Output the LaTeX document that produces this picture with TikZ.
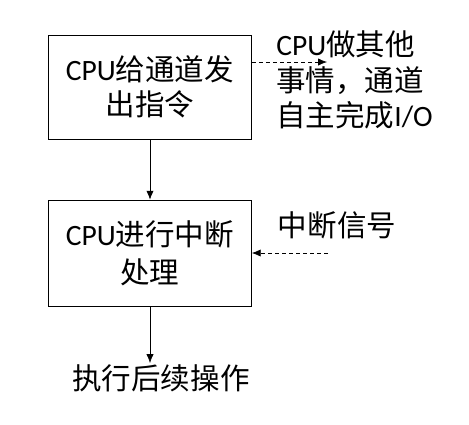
\documentclass[tikz,border=0pt]{standalone}
\usepackage{fontspec}
\setmainfont{Noto Sans CJK SC}
\newfontfamily\latfont{Carlito}
\usepackage{tikz}
\usetikzlibrary{arrows.meta,positioning}
\newcommand{\lat}[1]{{\latfont #1}}
\tikzset{
  stepbox/.style={draw=black,line width=0.5pt,minimum width=5.075cm,align=center,inner sep=2pt,font=\fontsize{21}{25}\selectfont},
  lbl/.style={align=left,inner sep=0pt,font=\fontsize{21}{25}\selectfont},
  ar/.style={-{Latex[length=2.2mm,width=1.8mm]},draw=black,line width=0.5pt},
  dar/.style={ar,densely dashed},
}
\begin{document}
\begin{tikzpicture}[x=0.025cm,y=-0.025cm]
\useasboundingbox (0,0) rectangle (469,424);
% boxes
\node[stepbox,minimum height=2.6cm] (cmd) at (150,87) {\lat{CPU}给通道发\\出指令};
\node[stepbox,minimum height=2.65cm,font=\fontsize{21}{27}\selectfont] (intr) at (150,253) {\lat{CPU}进行中断\\处理};
\node[lbl] (next) at (161,378) {执行后续操作};
% side notes
\node[lbl,anchor=west] (busy) at (276,80) {\lat{CPU}做其他\\事情，通道\\自主完成\lat{I/O}};
\node[lbl] (sig) at (337,225) {中断信号};
\coordinate (d1) at (327,62);
\coordinate (d2) at (328,253);
\coordinate (e1) at (150,363);
% connectors
\draw[ar] (cmd) -- (intr);
\draw[ar] (intr) -- (e1);
\draw[dar] (cmd.east |- d1) -- (d1);
\draw[dar] (d2) -- (intr.east |- d2);
\end{tikzpicture}
\end{document}
